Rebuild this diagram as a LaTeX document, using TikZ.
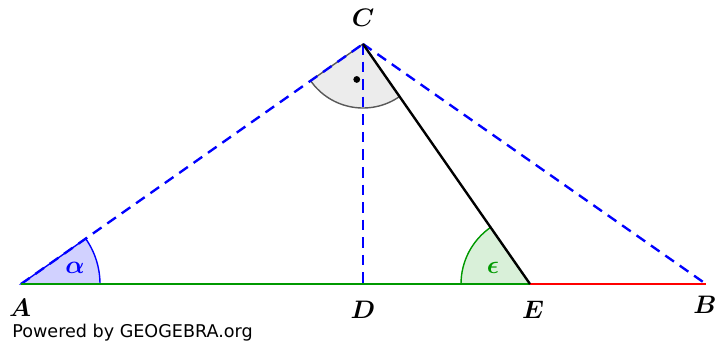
\documentclass[tikz,border=0pt]{standalone}
\usepackage{amsmath}
\usepackage{fontspec}
\newfontfamily\ggbfont{DejaVu Sans}
\usepackage{tikz}
\usetikzlibrary{calc}

\begin{document}
\begin{tikzpicture}[x=0.02cm,y=0.02cm,line cap=butt,
  dashline/.style={draw=blue,dashed,dash pattern=on 6pt off 4pt,line width=1.35pt},
  ptlabel/.style={font=\Large,inner sep=1pt},
  anglearc/.style={line width=0.8pt}]
\useasboundingbox (0,0) rectangle (717,343);
% points
\coordinate (A) at (21,59);
\coordinate (B) at (706,59);
\coordinate (C) at (363,299);
\coordinate (D) at (363,59);
\coordinate (E) at (530,59);
% angle sectors
\filldraw[anglearc,fill=blue!18,draw=blue] (A) -- ++(0:79) arc[start angle=0,end angle=35.06,radius=79] -- cycle;
\filldraw[anglearc,fill=green!60!black!15,draw=green!60!black] (E) -- ++(124.8:69) arc[start angle=124.8,end angle=180,radius=69] -- cycle;
\filldraw[anglearc,fill=gray!15,draw=gray!70!black] (C) -- ++(215.06:64) arc[start angle=215.06,end angle=304.8,radius=64] -- cycle;
\fill (C) ++(260:36) circle (3.4);
% lines
\draw[dashline] (A) -- (C);
\draw[dashline] (C) -- (B);
\draw[dashline] (C) -- (D);
\draw[line width=1.35pt,green!60!black] (A) -- (E);
\draw[line width=1.35pt,red] (E) -- (B);
\draw[line width=1.35pt,black] (C) -- (E);
% labels
\node[ptlabel] (lA) at (20,35){$\boldsymbol{A}$};
\node[ptlabel] (lB) at (705,38){$\boldsymbol{B}$};
\node[ptlabel] (lC) at (363,325){$\boldsymbol{C}$};
\node[ptlabel] (lD) at (363,33){$\boldsymbol{D}$};
\node[ptlabel] (lE) at (533,33){$\boldsymbol{E}$};
\node[text=blue,font=\Large] (alpha) at (75,75){$\boldsymbol{\alpha}$};
\node[text=green!60!black,font=\Large] (eps) at (493,75){$\boldsymbol{\epsilon}$};
\node[anchor=west,inner sep=0pt,font=\ggbfont\fontsize{10}{12}\selectfont] (ggb) at (12,10){Powered by GEOGEBRA.org};
\end{tikzpicture}
\end{document}
